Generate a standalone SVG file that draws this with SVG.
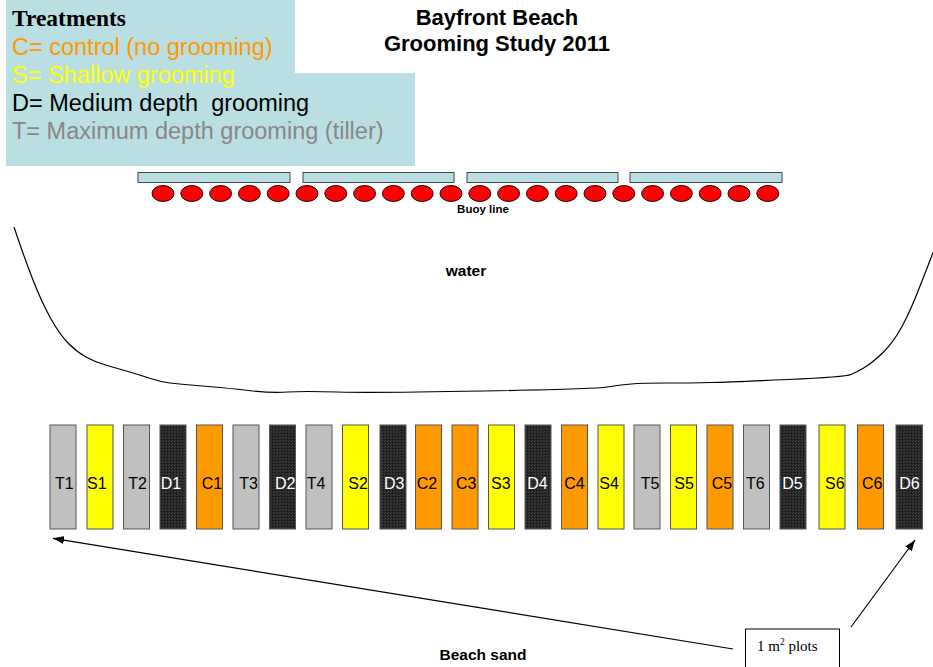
<svg xmlns="http://www.w3.org/2000/svg" width="933" height="667" viewBox="0 0 933 667">
  <style>
    .sans { font-family: "Liberation Sans", Arial, sans-serif; }
    .serif { font-family: "Liberation Serif", "Times New Roman", serif; }
    .legend { font-size: 23.5px; }
    .bar { fill: #B9DFE2; stroke: #333; stroke-width: 0.9; }
    .buoy { fill: #FF0000; stroke: #000; stroke-width: 0.9; }
    .plot { stroke: #555; stroke-width: 1; }
    .T { fill: #C0C0C0; }
    .S { fill: #FFFF00; }
    .C { fill: #FF9900; }
    .D { fill: url(#grain); }
    .lbl { font-family: "Liberation Sans", Arial, sans-serif; font-size: 16px; fill: #000; }
    .lbl.w { fill: #fff; }
    .conn { stroke: #000; stroke-width: 1.2; fill: none; }
  </style>
  <defs>
    <!-- dark speckled fill for the D plots -->
    <pattern id="grain" width="3" height="3" patternUnits="userSpaceOnUse">
      <rect width="3" height="3" fill="#262626"/>
      <rect x="0" y="0" width="1" height="1" fill="#3c3c3c"/>
      <rect x="2" y="1" width="1" height="1" fill="#151515"/>
      <rect x="1" y="2" width="1" height="1" fill="#404040"/>
    </pattern>
    <marker id="arrow" markerUnits="userSpaceOnUse" markerWidth="11" markerHeight="8" refX="11" refY="4" orient="auto">
      <path d="M0,0 L11,4 L0,8 z" fill="#000"/>
    </marker>
  </defs>

  <rect width="933" height="667" fill="#fff"/>

  <!-- treatments legend -->
  <g id="legend">
    <polygon points="6,0 295,0 295,73 415,73 415,166 6,166" fill="#B9DFE2"/>
    <text x="12" y="25.5" class="serif" font-size="23.5" font-weight="bold" fill="#000">Treatments</text>
    <text x="12" y="55" class="sans legend" fill="#FF9900">C= control (no grooming)</text>
    <text x="12" y="83" class="sans legend" fill="#FFFF00">S= Shallow grooming</text>
    <text x="12" y="111" class="sans legend" fill="#000" xml:space="preserve">D= Medium depth  grooming</text>
    <text x="12" y="139.3" class="sans legend" fill="#888">T= Maximum depth grooming (tiller)</text>
  </g>

  <!-- title -->
  <g id="title" class="sans" font-size="22" font-weight="bold" text-anchor="middle" fill="#000">
    <text x="497" y="25">Bayfront Beach</text>
    <text x="497" y="51">Grooming Study 2011</text>
  </g>

  <!-- buoy line: floating bars and buoys -->
  <g id="buoy-line">
    <rect class="bar" x="138" y="172.5" width="152" height="10"/>
    <rect class="bar" x="303" y="172.5" width="151" height="10"/>
    <rect class="bar" x="467" y="172.5" width="151" height="10"/>
    <rect class="bar" x="630" y="172.5" width="152" height="10"/>
    <g>
      <ellipse class="buoy" cx="163" cy="193.5" rx="11" ry="8"/>
      <ellipse class="buoy" cx="191.8" cy="193.5" rx="11" ry="8"/>
      <ellipse class="buoy" cx="220.6" cy="193.5" rx="11" ry="8"/>
      <ellipse class="buoy" cx="249.4" cy="193.5" rx="11" ry="8"/>
      <ellipse class="buoy" cx="278.2" cy="193.5" rx="11" ry="8"/>
      <ellipse class="buoy" cx="307" cy="193.5" rx="11" ry="8"/>
      <ellipse class="buoy" cx="335.8" cy="193.5" rx="11" ry="8"/>
      <ellipse class="buoy" cx="364.6" cy="193.5" rx="11" ry="8"/>
      <ellipse class="buoy" cx="393.4" cy="193.5" rx="11" ry="8"/>
      <ellipse class="buoy" cx="422.2" cy="193.5" rx="11" ry="8"/>
      <ellipse class="buoy" cx="451" cy="193.5" rx="11" ry="8"/>
      <ellipse class="buoy" cx="479.8" cy="193.5" rx="11" ry="8"/>
      <ellipse class="buoy" cx="508.6" cy="193.5" rx="11" ry="8"/>
      <ellipse class="buoy" cx="537.4" cy="193.5" rx="11" ry="8"/>
      <ellipse class="buoy" cx="566.2" cy="193.5" rx="11" ry="8"/>
      <ellipse class="buoy" cx="595" cy="193.5" rx="11" ry="8"/>
      <ellipse class="buoy" cx="623.8" cy="193.5" rx="11" ry="8"/>
      <ellipse class="buoy" cx="652.6" cy="193.5" rx="11" ry="8"/>
      <ellipse class="buoy" cx="681.4" cy="193.5" rx="11" ry="8"/>
      <ellipse class="buoy" cx="710.2" cy="193.5" rx="11" ry="8"/>
      <ellipse class="buoy" cx="739" cy="193.5" rx="11" ry="8"/>
      <ellipse class="buoy" cx="767.8" cy="193.5" rx="11" ry="8"/>
    </g>
    <text x="483" y="213" class="sans" font-size="11.5" font-weight="bold" text-anchor="middle">Buoy line</text>
  </g>

  <!-- shoreline and water -->
  <g id="water">
    <path class="conn" stroke-width="1.1" d="M14,227 Q24,257 33,280 Q42,303 51,319 Q60,335 68.5,343.5 Q77,352 86,357 Q95,362 105.5,365 Q116,368 128,371.5 Q140,375 150.5,378.5 Q161,382 170,383 Q179,384 190.5,385 Q202,386 214,387 Q226,388 248.5,390.5 Q271,393 287.5,392 Q304,391 338,392 Q372,393 483.5,391 Q595,389 607,387 Q619,385 631,384 Q643,383 666.5,383 Q690,383 711,382.5 Q732,382 788.5,379.5 Q845,377 851,374.5 Q857,372 864.5,367.5 Q872,363 882.5,353 Q893,343 902,326.5 Q911,310 922,281 L938,240"/>
    <text x="466" y="275.5" class="sans" font-size="15.5" font-weight="bold" text-anchor="middle">water</text>
  </g>

  <!-- 1 m2 plots -->
  <g id="plot-T1"><rect class="plot T" x="50" y="425" width="26" height="104"/><text class="lbl" x="55" y="489">T1</text></g>
  <g id="plot-S1"><rect class="plot S" x="87" y="425" width="26" height="104"/><text class="lbl" x="87" y="489">S1</text></g>
  <g id="plot-T2"><rect class="plot T" x="123.5" y="425" width="26" height="104"/><text class="lbl" x="128.3" y="489">T2</text></g>
  <g id="plot-D1"><rect class="plot D" x="160" y="425" width="26" height="104"/><text class="lbl w" x="160.7" y="489">D1</text></g>
  <g id="plot-C1"><rect class="plot C" x="196.5" y="425" width="26" height="104"/><text class="lbl" x="201.7" y="489">C1</text></g>
  <g id="plot-T3"><rect class="plot T" x="233" y="425" width="26" height="104"/><text class="lbl" x="239.3" y="489">T3</text></g>
  <g id="plot-D2"><rect class="plot D" x="269.5" y="425" width="26" height="104"/><text class="lbl w" x="275" y="489">D2</text></g>
  <g id="plot-T4"><rect class="plot T" x="306" y="425" width="26" height="104"/><text class="lbl" x="306.7" y="489">T4</text></g>
  <g id="plot-S2"><rect class="plot S" x="342.5" y="425" width="26" height="104"/><text class="lbl" x="348.3" y="489">S2</text></g>
  <g id="plot-D3"><rect class="plot D" x="380" y="425" width="26" height="104"/><text class="lbl w" x="384" y="489">D3</text></g>
  <g id="plot-C2"><rect class="plot C" x="415.5" y="425" width="26" height="104"/><text class="lbl" x="416.7" y="489">C2</text></g>
  <g id="plot-C3"><rect class="plot C" x="452" y="425" width="26" height="104"/><text class="lbl" x="456" y="489">C3</text></g>
  <g id="plot-S3"><rect class="plot S" x="488.5" y="425" width="26" height="104"/><text class="lbl" x="491" y="489">S3</text></g>
  <g id="plot-D4"><rect class="plot D" x="525" y="425" width="26" height="104"/><text class="lbl w" x="527.3" y="489">D4</text></g>
  <g id="plot-C4"><rect class="plot C" x="561.5" y="425" width="26" height="104"/><text class="lbl" x="564.3" y="489">C4</text></g>
  <g id="plot-S4"><rect class="plot S" x="598" y="425" width="26" height="104"/><text class="lbl" x="599.3" y="489">S4</text></g>
  <g id="plot-T5"><rect class="plot T" x="634" y="425" width="26" height="104"/><text class="lbl" x="640.7" y="489">T5</text></g>
  <g id="plot-S5"><rect class="plot S" x="670.5" y="425" width="26" height="104"/><text class="lbl" x="674.3" y="489">S5</text></g>
  <g id="plot-C5"><rect class="plot C" x="707" y="425" width="26" height="104"/><text class="lbl" x="711.7" y="489">C5</text></g>
  <g id="plot-T6"><rect class="plot T" x="743.5" y="425" width="26" height="104"/><text class="lbl" x="746" y="489">T6</text></g>
  <g id="plot-D5"><rect class="plot D" x="780" y="425" width="26" height="104"/><text class="lbl w" x="782.3" y="489">D5</text></g>
  <g id="plot-S6"><rect class="plot S" x="819" y="425" width="26" height="104"/><text class="lbl" x="825" y="489">S6</text></g>
  <g id="plot-C6"><rect class="plot C" x="857.5" y="425" width="26" height="104"/><text class="lbl" x="862" y="489">C6</text></g>
  <g id="plot-D6"><rect class="plot D" x="896" y="425" width="26.5" height="104"/><text class="lbl w" x="899.3" y="489">D6</text></g>

  <!-- plot size callout -->
  <g id="plot-note">
    <rect x="745.5" y="629" width="94" height="45" fill="#fff" stroke="#000" stroke-width="1"/>
    <text x="757" y="650.5" class="serif" font-size="15" fill="#000">1 m<tspan font-size="9.5" dy="-6">2</tspan><tspan dy="6"> plots</tspan></text>
  </g>

  <g id="connectors">
    <line class="conn" x1="733" y1="649" x2="53" y2="538.3" marker-end="url(#arrow)"/>
    <line class="conn" x1="851" y1="627" x2="915" y2="540" marker-end="url(#arrow)"/>
  </g>

  <text x="483" y="659.5" class="sans" font-size="15.5" font-weight="bold" text-anchor="middle">Beach sand</text>
</svg>
